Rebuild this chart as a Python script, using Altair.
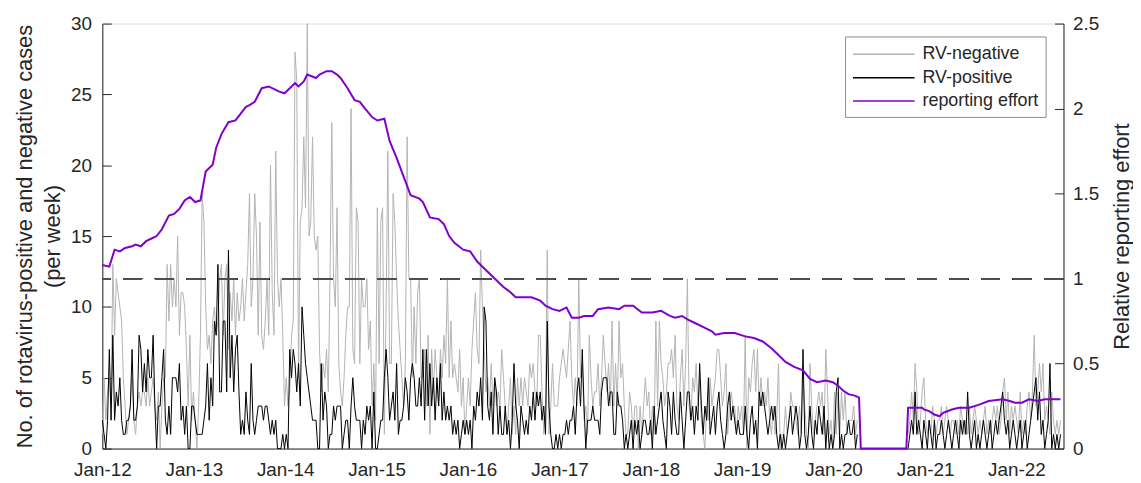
import altair as alt
import pandas as pd

# ---------------- data ----------------
START = pd.Timestamp("2012-01-01")
SERIES = ["RV-negative", "RV-positive", "reporting effort"]

# weekly counts, split into segments (start week index of each segment)
seg_start = [0, 136, 274, 413, 460]
seg_part = [0, 0, 0, 0, 1]  # part 1 = after the 2020 interruption

neg_a = [1, 5, 2, 4, 5, 3, 13, 8, 12, 11,
         10, 9, 5, 3, 1, 2, 3, 5, 2, 1,
         3, 4, 3, 4, 4, 3, 5, 3, 4, 5,
         3, 2, 4, 0, 3, 5, 5, 13, 9, 13,
         10, 12, 10, 15, 8, 11, 11, 10, 7, 3,
         8, 2, 4, 2, 0, 3,
         8, 18, 16, 10, 7, 8, 6, 9, 10, 8,
         9, 12, 13, 8, 12, 13, 7, 11, 9, 12, 8, 11,
         9, 10, 12, 9, 11, 13, 18, 10, 12, 18, 15, 8,
         16, 8, 7, 9, 12, 8, 20, 11, 8, 21,
         12, 10, 12, 8, 3, 5, 3, 4, 8, 9,
         28, 26, 5, 16, 17, 22, 17, 30, 15, 16,
         22, 15, 14, 15, 7, 4, 6, 5, 7, 4,
         12, 23, 12, 10, 17, 6]
pos_a = [2, 1, 0, 2, 7, 2, 8, 2, 4, 3,
         5, 2, 1, 1, 2, 2, 3, 7, 2, 2,
         3, 8, 7, 4, 6, 4, 7, 5, 5, 8,
         3, 0, 3, 3, 5, 7, 2, 1, 3, 1,
         5, 5, 5, 4, 6, 2, 3, 1, 3, 0,
         0, 3, 3, 2, 1, 1, 1, 1, 2, 3,
         6, 2, 5, 3, 9, 8, 13, 4, 4, 9,
         9, 4, 14, 5, 8, 4, 7, 8, 4, 1,
         2, 1, 4, 2, 1, 6, 2, 1, 2, 3, 3, 3, 2, 3, 3, 2,
         1, 2, 1, 2, 0, 0, 0, 1, 0, 1, 0, 7, 5, 7, 6, 4, 6, 3, 10, 8, 6, 5, 4, 3, 2, 2, 2,
         0, 0, 6, 2, 4, 3, 0, 1, 1, 3, 2, 3, 3]

neg_b = [4, 3, 5, 8, 10, 10, 24, 7, 6, 17,
         16, 6, 12, 10, 10, 12, 7, 9, 3, 6,
         2, 17, 6, 16, 17, 1, 10, 21, 6, 6,
         18, 16, 12, 9, 7, 5, 3, 6, 22, 12,
         12, 5, 10, 6, 11, 12, 5, 5, 7, 3,
         8, 1, 7, 4, 7, 5, 3, 7, 5, 8,
         6, 12, 5, 9, 5, 6, 5, 4, 7, 3,
         5, 1, 3, 5, 3, 7, 9, 11, 7, 6,
         14, 10, 7, 4, 5, 3, 6, 3, 5, 3,
         4, 3, 7, 5, 3, 1, 3, 5, 1, 3,
         1, 5, 3, 5, 3, 5, 4, 3, 6, 5,
         6, 4, 3, 8, 8, 4, 1, 3, 14, 1,
         3, 6, 3, 3, 3, 5, 6, 7, 6, 5,
         7, 9, 5, 3, 5, 3, 12, 5]
pos_b = [3, 0, 1, 2, 2, 0, 3, 5, 3, 2,
         2, 2, 0, 2, 1, 3, 2, 3, 0, 4,
         0, 0, 1, 2, 2, 5, 7, 5, 2, 3,
         4, 2, 6, 1, 2, 2, 3, 5, 4, 2,
         5, 6, 5, 3, 3, 5, 3, 7, 2, 7,
         3, 6, 3, 5, 2, 5, 3, 6, 2, 4,
         2, 3, 2, 3, 1, 2, 1, 2, 0, 1,
         2, 1, 2, 1, 2, 0, 3, 2, 4, 3,
         5, 2, 10, 9, 3, 2, 4, 1, 5, 4,
         1, 3, 1, 1, 3, 1, 2, 0, 2, 6,
         3, 2, 0, 3, 2, 1, 2, 1, 3, 2,
         4, 2, 4, 3, 4, 2, 3, 1, 9, 3,
         1, 0, 0, 1, 0, 1, 0, 1, 1, 2,
         1, 2, 2, 3, 1, 4, 5, 3]

neg_c = [6, 2, 3, 1, 8, 5, 3, 4, 4, 6,
         3, 5, 8, 6, 4, 6, 3, 9, 3, 6,
         3, 9, 5, 6, 3, 1, 1, 4, 3, 1,
         3, 3, 0, 3, 1, 3, 5, 3, 4, 1,
         3, 1, 9, 3, 9, 6, 5, 3, 4, 6,
         6, 7, 5, 8, 3, 2, 5, 7, 3, 6,
         12, 3, 2, 5, 4, 6, 3, 5, 2, 1,
         0, 3, 2, 5, 3, 4, 5, 7, 7, 5,
         3, 4, 6, 1, 3, 4, 3, 3, 1, 3,
         2, 3, 1, 8, 0, 5, 4, 6, 7, 4,
         7, 3, 5, 3, 4, 3, 5, 2, 1, 3,
         1, 2, 6, 0, 1, 1, 3, 1, 2, 4,
         3, 3, 2, 1, 3, 1, 5, 3, 1, 0,
         6, 3, 1, 2, 3, 4, 3, 4, 1]
pos_c = [7, 3, 0, 2, 2, 2, 3, 2, 2, 2,
         1, 4, 5, 5, 5, 3, 4, 4, 1, 1,
         4, 3, 3, 2, 0, 1, 0, 1, 2, 0,
         2, 1, 2, 0, 1, 2, 2, 1, 1, 2,
         0, 3, 1, 2, 3, 4, 2, 1, 0, 4,
         3, 1, 4, 2, 1, 1, 4, 2, 0, 2,
         4, 4, 2, 3, 1, 3, 2, 6, 3, 1,
         3, 2, 5, 1, 2, 3, 1, 3, 4, 2,
         1, 0, 1, 3, 4, 2, 3, 2, 1, 2,
         1, 1, 1, 3, 1, 0, 2, 3, 1, 2,
         0, 4, 3, 4, 3, 2, 1, 2, 3, 2,
         3, 1, 0, 1, 0, 1, 0, 1, 2, 3,
         1, 2, 3, 2, 0, 1, 7, 1, 0, 1,
         3, 1, 0, 2, 1, 3, 2, 1, 3]

neg_d = [7, 4, 1, 2, 0, 4, 1, 4, 1, 4, 2, 4, 1, 2, 2, 2, 3, 1, 2]
pos_d = [0, 2, 0, 1, 0, 1, 4, 5, 0, 1, 0, 1, 1, 2, 1, 1, 2, 0, 1]

neg_e = [1, 2, 4, 2, 6, 4, 1, 2, 4, 5,
         2, 1, 2, 1, 3, 2, 1, 2, 2, 3,
         1, 2, 3, 2, 1, 2, 2, 1, 2, 1,
         3, 2, 1, 2, 1, 3, 1, 2, 3, 2,
         1, 2, 1, 2, 3, 1, 2, 1, 2, 3,
         2, 3, 1, 2, 4, 5, 2, 4, 1, 3,
         2, 3, 2, 1, 4, 1, 2, 1, 3, 4,
         2, 4, 8, 3, 4, 6, 4, 6, 2, 3,
         2, 1, 4, 2, 1, 2, 1, 2]
pos_e = [0, 1, 2, 1, 4, 1, 2, 1, 0, 2,
         1, 0, 2, 1, 0, 2, 0, 1, 1, 2,
         1, 0, 1, 2, 1, 0, 1, 2, 1, 0,
         2, 1, 2, 1, 4, 1, 0, 1, 2, 0,
         1, 0, 1, 2, 1, 0, 1, 2, 0, 1,
         2, 1, 2, 3, 4, 2, 1, 2, 0, 1,
         2, 1, 0, 1, 2, 0, 1, 2, 0, 1,
         2, 3, 4, 5, 2, 4, 1, 2, 0, 1,
         2, 6, 0, 1, 0, 1, 0, 1]

# relative reporting effort (week index, value)
eff_week = [0, 4, 7, 10, 13, 17, 19, 22, 25, 29, 31, 34, 38, 41, 44, 47, 50, 53, 56,
            59, 63, 65, 68, 72, 76, 79, 82, 84, 87, 91, 95, 99, 101, 104, 107, 110,
            112, 115, 117, 122, 124, 128, 131, 134, 136, 140, 144, 147, 150, 154,
            157, 161, 164, 168, 172, 176, 181, 183, 187, 192, 195, 198, 201, 206,
            210, 214, 217, 221, 225, 229, 233, 236, 240, 245, 250, 253, 257, 261,
            265, 268, 272, 275, 280, 283, 289, 295, 298, 303, 308, 314, 319, 324,
            327, 331, 334, 338, 344, 348, 350, 355, 361, 367, 372, 377, 382, 386,
            390, 395, 400, 404, 408, 413, 417, 420, 423, 426, 430, 432, 433, 459,
            460, 468, 469, 472, 475, 478, 480, 485, 489, 495, 501, 506, 514, 518,
            521, 525, 529, 534, 538, 542, 547]
eff_value = [1.08, 1.07, 1.17, 1.16, 1.18, 1.19, 1.20, 1.19, 1.22, 1.24, 1.25, 1.29,
             1.37, 1.38, 1.41, 1.46, 1.48, 1.45, 1.46, 1.63, 1.67, 1.77, 1.85, 1.92,
             1.93, 1.97, 2.01, 2.02, 2.04, 2.12, 2.13, 2.11, 2.10, 2.09, 2.12, 2.15,
             2.13, 2.16, 2.20, 2.18, 2.20, 2.22, 2.22, 2.20, 2.18, 2.12, 2.05, 2.04,
             2.00, 1.95, 1.93, 1.94, 1.81, 1.71, 1.60, 1.49, 1.47, 1.45, 1.36, 1.35,
             1.32, 1.25, 1.21, 1.17, 1.16, 1.10, 1.07, 1.03, 0.99, 0.95, 0.92, 0.89,
             0.89, 0.89, 0.87, 0.84, 0.82, 0.81, 0.83, 0.77, 0.77, 0.78, 0.78, 0.82,
             0.83, 0.82, 0.84, 0.84, 0.80, 0.80, 0.81, 0.78, 0.77, 0.78, 0.76, 0.74,
             0.71, 0.69, 0.67, 0.68, 0.68, 0.66, 0.65, 0.63, 0.59, 0.55, 0.51, 0.48,
             0.46, 0.41, 0.39, 0.40, 0.39, 0.37, 0.34, 0.32, 0.31, 0.30, 0.0, 0.0,
             0.24, 0.24, 0.23, 0.22, 0.20, 0.19, 0.21, 0.23, 0.24, 0.24, 0.26, 0.28,
             0.29, 0.28, 0.27, 0.27, 0.29, 0.28, 0.29, 0.29, 0.29]

left_ticks = [0, 5, 10, 15, 20, 25, 30]
right_ticks = [0, 0.5, 1, 1.5, 2, 2.5]
baseline_effort = 1  # dashed reference level on the right axis (= 12 on the left)

# ---------------- tables ----------------
neg_segs = [neg_a, neg_b, neg_c, neg_d, neg_e]
pos_segs = [pos_a, pos_b, pos_c, pos_d, pos_e]
rows = []
for s0, part, negs, poss in zip(seg_start, seg_part, neg_segs, pos_segs):
    for i, (n, p) in enumerate(zip(negs, poss)):
        d = START + pd.Timedelta(weeks=s0 + i)
        rows.append({"date": d, "value": n, "series": "RV-negative", "part": part})
        rows.append({"date": d, "value": p, "series": "RV-positive", "part": part})
rv = pd.DataFrame(rows)
eff = pd.DataFrame({
    "date": [START + pd.Timedelta(weeks=w) for w in eff_week],
    "effort": eff_value,
    "series": "reporting effort",
})

FONT = "Liberation Sans"
INK = "#262626"
colors = ["#b3b3b3", "#000000", "#8000cc"]

x_enc = alt.X(
    "date:T",
    scale=alt.Scale(domain=[alt.DateTime(year=2012, month=1, date=1),
                            alt.DateTime(year=2022, month=7, date=8)]),
    axis=alt.Axis(format="%b-%y", tickCount=alt.TickCount(interval="year", step=1),
                  title=None, grid=False, ticks=False, labelFontSize=19,
                  labelPadding=12, labelFlush=False, labelOverlap=False,
                  labelColor=INK, domainColor=INK, labelFont=FONT),
)

color_enc = alt.Color(
    "series:N",
    scale=alt.Scale(domain=SERIES, range=colors),
    legend=alt.Legend(title=None, orient="none", legendX=748, legendY=13,
                      symbolType="M-1,0H5.2", symbolSize=400, symbolStrokeWidth=1.5,
                      labelFontSize=18, labelOffset=49, labelFont=FONT,
                      labelColor=INK, padding=7, rowPadding=3.5,
                      strokeColor="#8c8c8c", fillColor="white"),
)

rv_lines = alt.Chart(rv).mark_line(strokeWidth=1, interpolate="linear").encode(
    x=x_enc,
    y=alt.Y("value:Q",
            scale=alt.Scale(domain=[0, 30], nice=False),
            axis=alt.Axis(values=left_ticks, grid=True, gridDash=[9, 3000],
                          gridColor=INK, gridOpacity=1, ticks=False,
                          domainColor=INK, labelFontSize=19, labelPadding=11,
                          labelColor=INK, labelFont=FONT,
                          title=["No. of rotavirus-positive and negative cases", "(per week)"],
                          titleFontSize=22, titleFontWeight="normal", titleColor=INK,
                          titleFont=FONT, titlePadding=6, titleLineHeight=28)),
    color=color_enc,
    detail="part:N",
)

ref_rule = alt.Chart(rv).mark_rule(strokeDash=[19, 13], color="#4d4d4d", strokeWidth=1).encode(
    y=alt.datum(baseline_effort * 12)
)

left = alt.layer(rv_lines, ref_rule)

eff_line = alt.Chart(eff).mark_line(strokeWidth=2).encode(
    x=alt.X("date:T"),
    y=alt.Y("effort:Q",
            scale=alt.Scale(domain=[0, 2.5], nice=False),
            axis=alt.Axis(orient="right", values=right_ticks, format="~g",
                          grid=True, gridDash=[9, 3000], gridColor=INK, gridOpacity=1,
                          ticks=False, domainColor=INK, labelFontSize=19,
                          labelPadding=9, labelColor=INK, labelFont=FONT,
                          title="Relative reporting effort", titleFontSize=22,
                          titleFontWeight="normal", titleColor=INK, titleFont=FONT,
                          titleAngle=270, titleBaseline="top", titlePadding=13)),
    color=color_enc,
)

chart = alt.layer(left, eff_line).resolve_scale(y="independent").properties(
    width=968, height=428,
    autosize=alt.AutoSizeParams(type="none"),
    padding={"left": 95, "top": 14, "right": 70, "bottom": 33},
).configure_view(stroke=None).configure(font=FONT)

chart.save("out.html", embed_options={"renderer": "svg", "actions": False})
